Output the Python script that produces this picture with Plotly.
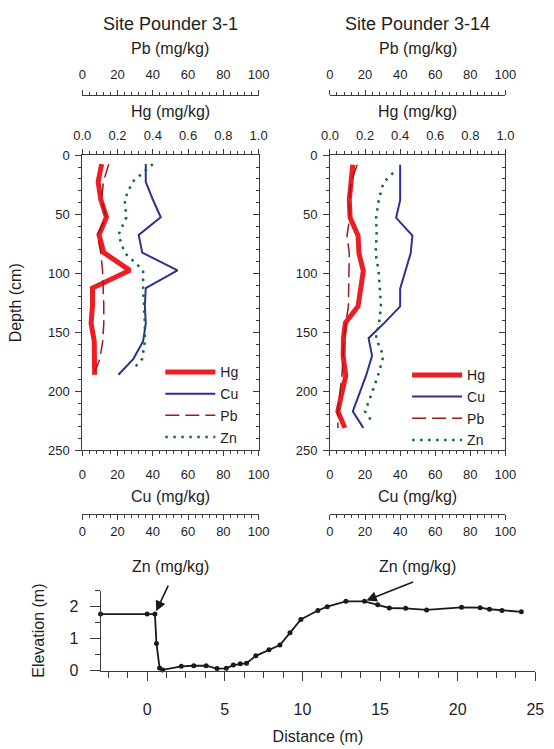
import plotly.graph_objects as go

W, H = 554, 749

# ---------------- data: Site Pounder 3-1 ----------------
depth_31 = [7.5, 22.5, 37.5, 52.5, 67.5, 82.5, 97.5, 112.5, 127.5, 142.5, 157.5, 172.5, 186]
hg_31 = [0.11, 0.09, 0.105, 0.137, 0.095, 0.122, 0.27, 0.058, 0.058, 0.05, 0.068, 0.07, 0.07]
cu_31 = [36, 36, 40, 44.5, 32, 34, 54, 36, 35.5, 36, 34.5, 29, 20.5]
pb_depth_31 = [7.5, 22.5, 37.5, 52.5, 67.5, 82.5, 97.5, 112.5, 127.5, 142.5, 157.5, 172.5, 183]
pb_31 = [15, 12, 11, 13.5, 8.5, 10.5, 11.5, 12, 12.2, 12.2, 11.6, 10, 7.3]
zn_depth_31 = [7.5, 22.5, 37.5, 52.5, 67.5, 82.5, 97.5, 112.5, 127.5, 142.5, 157.5, 172.5, 181]
zn_31 = [40, 28.5, 24, 25, 20.5, 24, 34.5, 34.5, 35, 35.5, 35.5, 34, 29]

# ---------------- data: Site Pounder 3-14 ----------------
depth_314 = [8, 23, 38, 53, 68, 83, 98, 113, 128, 142, 155, 170, 187, 203, 217, 231]
hg_314 = [0.13, 0.12, 0.11, 0.115, 0.16, 0.165, 0.19, 0.175, 0.16, 0.088, 0.077, 0.075, 0.09, 0.065, 0.045, 0.085]
cu_314 = [40, 40, 40, 37.7, 47, 46, 43, 40, 40, 31, 22, 24, 20.5, 16.7, 13, 19]
pb_314 = [15.5, 12, 11, 11.3, 9.7, 11, 10.8, 10.6, 10.5, 9, 8, 7.5, 6.8, 5.5, 4.5, 4.5]
zn_depth_314 = [15, 23, 38, 53, 68, 83, 98, 113, 128, 142, 155, 170, 187, 203, 217, 227]
zn_314 = [36, 30.5, 27.8, 26.3, 26.6, 26, 27.7, 28.3, 29.1, 28, 26.2, 30.5, 27.3, 23.5, 20, 24.5]

# ---------------- data: elevation profile ----------------
distance = [-3, 0, 0.5, 0.6, 0.8, 1.0, 2.2, 3.0, 3.8, 4.5, 5.1, 5.55, 6.0, 6.4, 7.0, 7.85,
            8.55, 9.2, 9.9, 11.0, 11.6, 12.8, 14.0, 14.85, 15.6, 16.65, 18.0, 20.25, 21.45,
            22.05, 22.85, 24.1]
elevation = [1.77, 1.77, 1.77, 0.85, 0.08, 0.02, 0.13, 0.15, 0.15, 0.06, 0.07, 0.17, 0.21,
             0.23, 0.46, 0.65, 0.8, 1.18, 1.6, 1.88, 2.0, 2.17, 2.17, 2.06, 1.96, 1.95, 1.9,
             1.98, 1.97, 1.92, 1.88, 1.84]

site_titles = ["Site Pounder 3-1", "Site Pounder 3-14"]

FONT = "Liberation Sans, Arial, sans-serif"
AX = "#3c3c3c"
TXT = "#1e1e1e"
C_HG = "#ee1c25"
C_CU = "#2e3192"
C_PB = "#991b1e"
C_ZN = "#0b6b3a"


def px(v):
    return v / W


def py(v):
    return 1 - v / H


PANEL_Y = [py(453), py(151.5)]
PANEL_X = [[px(76), px(259)], [px(333), px(515)]]
PB_POS = py(90)
ZN_POS = py(518)

fig = go.Figure()
layout = dict(
    width=W, height=H, margin=dict(l=0, r=0, t=0, b=0),
    paper_bgcolor="white", plot_bgcolor="rgba(0,0,0,0)",
    font=dict(family=FONT, color=TXT, size=13),
    annotations=[], showlegend=True,
)


def base_axis(**kw):
    d = dict(showgrid=False, zeroline=False, showline=True, linecolor=AX, linewidth=1,
             tickcolor=AX, tickfont=dict(size=13, color=TXT))
    d.update(kw)
    return d


panels = [
    dict(depth=depth_31, hg=hg_31, cu=cu_31, pbd=pb_depth_31, pb=pb_31, znd=zn_depth_31, zn=zn_31,
         xs=[1, 2, 3, 4], ys=[1, 2], legend="legend", lx=157, ly=357),
    dict(depth=depth_314, hg=hg_314, cu=cu_314, pbd=depth_314, pb=pb_314, znd=zn_depth_314, zn=zn_314,
         xs=[5, 6, 7, 8], ys=[3, 4], legend="legend2", lx=413, ly=360),
]


def key(prefix, i):
    return prefix if i == 1 else f"{prefix}{i}"


def ref(prefix, i):
    return prefix if i == 1 else f"{prefix}{i}"


for p_i, P in enumerate(panels):
    xcu, xhg, xpb, xzn = P["xs"]
    ymain, yright = P["ys"]
    dom = PANEL_X[p_i]
    xcu_r = ref("x", xcu)
    ymain_r = ref("y", ymain)
    yright_r = ref("y", yright)

    major20 = dict(tickmode="linear", tick0=0, dtick=20)
    minor4 = dict(tick0=0, dtick=4, ticks="outside", ticklen=3, tickcolor=AX)

    layout[key("xaxis", xcu)] = base_axis(domain=dom, anchor=ymain_r, range=[0, 100], side="bottom",
                                          ticks="outside", ticklen=5, minor=minor4, ticklabelstandoff=7,
                                          **major20)
    layout[key("xaxis", xhg)] = base_axis(overlaying=xcu_r, anchor=ymain_r, range=[0, 1], side="top",
                                          ticks="outside", ticklen=5, tickmode="linear", tick0=0,
                                          dtick=0.2, tickformat=".1f", ticklabelstandoff=4,
                                          minor=dict(tick0=0, dtick=0.04, ticks="outside", ticklen=3,
                                                     tickcolor=AX))
    layout[key("xaxis", xpb)] = base_axis(overlaying=xcu_r, anchor="free", position=PB_POS, range=[0, 100],
                                          side="top", ticks="outside", ticklen=5, minor=minor4,
                                          ticklabelstandoff=6, **major20)
    layout[key("xaxis", xzn)] = base_axis(overlaying=xcu_r, anchor="free", position=ZN_POS, range=[0, 100],
                                          side="bottom", ticks="outside", ticklen=5, minor=minor4, **major20)
    layout[key("yaxis", ymain)] = base_axis(domain=PANEL_Y, anchor=xcu_r, range=[250, 0], side="left",
                                            ticks="outside", ticklen=6, tickmode="linear", tick0=0, dtick=50,
                                            ticklabelstandoff=3,
                                            minor=dict(tick0=0, dtick=10, ticks="outside", ticklen=3,
                                                       tickcolor=AX))
    layout[key("yaxis", yright)] = base_axis(overlaying=ymain_r, anchor=xcu_r, range=[250, 0], side="right",
                                             ticks="inside", ticklen=6, tickmode="linear", tick0=0, dtick=50,
                                             showticklabels=False,
                                             minor=dict(tick0=0, dtick=10, ticks="inside", ticklen=3,
                                                        tickcolor=AX))

    lg = P["legend"]
    fig.add_trace(go.Scatter(x=P["cu"], y=P["depth"], xaxis=xcu_r, yaxis=ymain_r, mode="lines",
                             name="Cu", line=dict(color=C_CU, width=2), legend=lg, legendrank=2,
                             legendgroup=f"cu{p_i}"))
    fig.add_trace(go.Scatter(x=P["zn"], y=P["znd"], xaxis=ref("x", xzn), yaxis=yright_r, mode="lines",
                             name="Zn", line=dict(color=C_ZN, width=2.5, dash="2.5px,5.5px"), legend=lg,
                             legendrank=4, legendgroup=f"zn{p_i}"))
    fig.add_trace(go.Scatter(x=P["pb"], y=P["pbd"], xaxis=ref("x", xpb), yaxis=ymain_r, mode="lines",
                             name="Pb", line=dict(color=C_PB, width=1.5, dash="14px,6px"), legend=lg,
                             legendrank=3, legendgroup=f"pb{p_i}"))
    fig.add_trace(go.Scatter(x=P["hg"], y=P["depth"], xaxis=ref("x", xhg), yaxis=ymain_r, mode="lines",
                             name="Hg", line=dict(color=C_HG, width=5), legend=lg, legendrank=1,
                             legendgroup=f"hg{p_i}"))

    layout[lg] = dict(x=px(P["lx"]), y=py(P["ly"]), xanchor="left", yanchor="top",
                      bgcolor="rgba(0,0,0,0)", font=dict(size=14, color=TXT), traceorder="grouped",
                      tracegroupgap=0.5, itemwidth=50)

    cx = (dom[0] + dom[1]) / 2
    for text, yy, size in [(site_titles[p_i], 17, 18), ("Pb (mg/kg)", 42, 16), ("Hg (mg/kg)", 107, 16),
                           ("Cu (mg/kg)", 500, 16), ("Zn (mg/kg)", 572, 16)]:
        layout["annotations"].append(dict(text=text, x=cx, y=py(yy), xref="paper", yref="paper",
                                          xanchor="center", yanchor="middle", showarrow=False,
                                          font=dict(size=size, color=TXT)))

layout["yaxis"]["title"] = dict(text="Depth (cm)", font=dict(size=16, color=TXT), standoff=22)

# ---------------- elevation profile ----------------
layout["xaxis9"] = base_axis(domain=[px(95), px(546)], anchor="y5", range=[-3, 25], side="bottom",
                             ticks="outside", ticklen=9, tickmode="array", tickvals=[0, 5, 10, 15, 20, 25],
                             tickfont=dict(size=16, color=TXT), ticklabelstandoff=15,
                             minor=dict(tickmode="linear", tick0=0, dtick=1.25, ticks="outside", ticklen=6,
                                        tickcolor=AX),
                             title=dict(text="Distance (m)", font=dict(size=16, color=TXT), standoff=14))
layout["yaxis5"] = base_axis(domain=[py(678), py(596.5)], anchor="x9", range=[0, 2.5], side="left",
                             ticks="outside", ticklen=10, tickmode="array", tickvals=[0, 1, 2],
                             tickfont=dict(size=16, color=TXT), ticklabelstandoff=8,
                             minor=dict(tickmode="linear", tick0=0, dtick=0.5, ticks="outside", ticklen=5,
                                        tickcolor=AX),
                             title=dict(text="Elevation (m)", font=dict(size=16, color=TXT), standoff=20))

fig.add_trace(go.Scatter(x=distance, y=elevation, xaxis="x9", yaxis="y5", mode="lines+markers",
                         line=dict(color="#1a1a1a", width=1.8), marker=dict(color="#1a1a1a", size=5),
                         showlegend=False, cliponaxis=False))

for idx, (ax_, ay_, sto) in [(2, (14, -30, 3)), (22, (50, -20, 2))]:
    layout["annotations"].append(dict(x=distance[idx], y=elevation[idx], xref="x9", yref="y5", text="",
                                      showarrow=True, ax=ax_, ay=ay_, arrowhead=2, arrowsize=1.3,
                                      arrowwidth=1.6, arrowcolor="#1a1a1a", standoff=sto))

fig.update_layout(**layout)
fig.write_html("out.html")
